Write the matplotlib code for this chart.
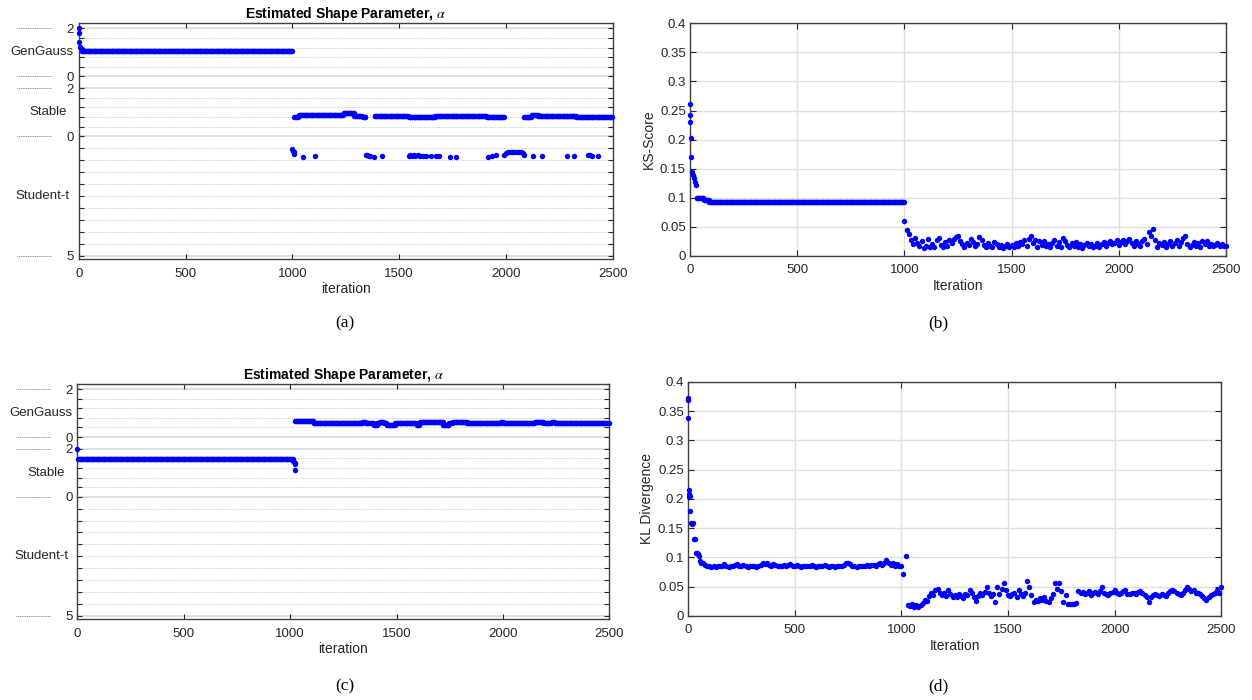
"""Estimated shape parameter and goodness-of-fit traces for two runs."""

from __future__ import annotations

import matplotlib

matplotlib.use("Agg")
import matplotlib.pyplot as plt
import numpy as np

plt.rcParams["font.family"] = ["Liberation Sans", "DejaVu Sans"]
plt.rcParams["mathtext.fontset"] = "stix"

X_TICKS = [0, 500, 1000, 1500, 2000, 2500]
SCORE_TICKS = [0, 0.05, 0.1, 0.15, 0.2, 0.25, 0.3, 0.35, 0.4]
SCORE_TICK_LABELS = ["0", "0.05", "0.1", "0.15", "0.2", "0.25", "0.3", "0.35", "0.4"]

# stacked y axis of the shape panels:
# GenGauss alpha 0..2 on top, Stable alpha 0..2 below it, Student-t nu 0..5 at the bottom
MODEL_NAMES = ["GenGauss", "Stable", "Student-t"]
MODEL_LABEL_VALUES = [1.0, 1.0, 2.5]
MAJOR_LABELS = ["5", "0", "2", "0", "2"]

# ---- (a) shape parameter, first run ----
A_GG_IT = [0, 1, 3, 6, 14]
A_GG_VAL = [2.0, 1.82, 1.44, 1.21, 1.12]
A_GG_RUNS = [(14, 1001, 1.07)]  # (from iteration, to iteration, value)
A_STABLE_RUNS = [
    (1010, 1030, 0.80), (1030, 1240, 0.87), (1240, 1290, 0.95), (1290, 1330, 0.84),
    (1330, 1343, 0.80), (1385, 1418, 0.86), (1420, 1544, 0.83), (1545, 1560, 0.80),
    (1560, 1670, 0.81), (1670, 1760, 0.84), (1760, 1910, 0.84), (1910, 1992, 0.81),
    (2085, 2120, 0.80), (2120, 2150, 0.88), (2150, 2280, 0.83), (2280, 2330, 0.86),
    (2330, 2385, 0.82), (2385, 2501, 0.80),
]
A_ST_IT = [1000, 1003, 1006, 1010, 1048, 1108, 1343, 1350, 1358, 1365,
           1381, 1418, 1544, 1552, 1560, 1568, 1575, 1590, 1600, 1610,
           1625, 1648, 1671, 1687, 1736, 1767, 1915, 1935, 1955, 1990,
           2000, 2010, 2020, 2030, 2040, 2050, 2060, 2070, 2080, 2085,
           2125, 2167, 2284, 2318, 2386, 2395, 2405, 2430]
A_ST_VAL = [0.55, 0.62, 0.68, 0.75, 0.88, 0.84, 0.78, 0.80, 0.82, 0.84,
            0.86, 0.84, 0.82, 0.80, 0.82, 0.80, 0.81, 0.80, 0.82, 0.81,
            0.82, 0.84, 0.84, 0.84, 0.86, 0.86, 0.86, 0.84, 0.80, 0.78,
            0.72, 0.68, 0.66, 0.65, 0.65, 0.65, 0.66, 0.68, 0.72, 0.78,
            0.84, 0.84, 0.83, 0.83, 0.78, 0.80, 0.82, 0.84]

# ---- (b) KS score, first run ----
B_EARLY_IT = [0, 1, 2, 4, 6, 10, 15, 20, 25, 30, 32]
B_EARLY_VAL = [0.262, 0.243, 0.230, 0.202, 0.170, 0.145, 0.139, 0.134, 0.128, 0.122, 0.099]
B_RUNS = [(35, 65, 0.099), (65, 90, 0.096), (90, 1000, 0.093)]
B_LATE_IT = list(range(1000, 2501, 10))
B_LATE_VAL = [
    0.060, 0.045, 0.037, 0.028, 0.020, 0.031, 0.022, 0.017, 0.025, 0.014,
    0.018, 0.030, 0.016, 0.021, 0.015, 0.027, 0.031, 0.019, 0.016, 0.024,
    0.018, 0.028, 0.022, 0.030, 0.033, 0.035, 0.026, 0.020, 0.016, 0.023,
    0.019, 0.029, 0.024, 0.017, 0.021, 0.032, 0.027, 0.019, 0.015, 0.022,
    0.018, 0.016, 0.024, 0.020, 0.015, 0.019, 0.014, 0.017, 0.021, 0.016,
    0.019, 0.015, 0.022, 0.017, 0.024, 0.020, 0.028, 0.018, 0.030, 0.034,
    0.022, 0.027, 0.016, 0.025, 0.019, 0.026, 0.017, 0.020, 0.015, 0.023,
    0.028, 0.018, 0.024, 0.016, 0.031, 0.026, 0.019, 0.015, 0.022, 0.018,
    0.024, 0.016, 0.020, 0.014, 0.019, 0.023, 0.017, 0.021, 0.015, 0.018,
    0.022, 0.016, 0.020, 0.024, 0.018, 0.022, 0.026, 0.020, 0.023, 0.027,
    0.019, 0.024, 0.028, 0.021, 0.025, 0.030, 0.022, 0.018, 0.026, 0.021,
    0.017, 0.025, 0.029, 0.020, 0.042, 0.035, 0.047, 0.028, 0.016, 0.022,
    0.019, 0.024, 0.015, 0.020, 0.026, 0.018, 0.022, 0.028, 0.017, 0.024,
    0.031, 0.034, 0.021, 0.015, 0.019, 0.024, 0.018, 0.022, 0.016, 0.025,
    0.020, 0.026, 0.018, 0.021, 0.017, 0.019, 0.022, 0.018, 0.020, 0.017,
    0.018,
]

# ---- (c) shape parameter, second run ----
C_STABLE_IT = [0, 1015, 1018, 1021, 1023, 1025]
C_STABLE_VAL = [1.99, 1.50, 1.46, 1.40, 1.37, 1.11]
C_STABLE_RUNS = [(3, 1015, 1.56)]
C_GG_RUNS = [
    (1025, 1110, 0.68), (1110, 1340, 0.59), (1340, 1355, 0.62), (1355, 1395, 0.58),
    (1395, 1410, 0.52), (1410, 1420, 0.60), (1420, 1440, 0.63), (1440, 1455, 0.58),
    (1455, 1495, 0.52), (1495, 1595, 0.58), (1595, 1610, 0.52), (1610, 1720, 0.64),
    (1720, 1745, 0.51), (1745, 1765, 0.58), (1765, 1830, 0.64), (1830, 1990, 0.59),
    (1990, 2000, 0.62), (2000, 2150, 0.59), (2150, 2190, 0.64), (2190, 2230, 0.59),
    (2230, 2245, 0.63), (2245, 2501, 0.58),
]

# ---- (d) KL divergence, second run ----
D_EARLY_IT = [0, 1, 2, 3, 5, 7, 9, 11, 14, 18, 22, 28, 34, 37, 42, 48, 53, 56, 61]
D_EARLY_VAL = [0.372, 0.369, 0.339, 0.215, 0.208, 0.204, 0.205, 0.179, 0.159, 0.158,
               0.159, 0.131, 0.131, 0.108, 0.107, 0.106, 0.103, 0.094, 0.090]
D_MID_IT = list(range(70, 1000, 10))
D_MID_VAL = [
    0.090, 0.088, 0.085, 0.086, 0.084, 0.085, 0.084, 0.085, 0.085, 0.086,
    0.089, 0.085, 0.084, 0.085, 0.085, 0.087, 0.089, 0.086, 0.085, 0.087,
    0.085, 0.084, 0.085, 0.086, 0.085, 0.084, 0.086, 0.088, 0.090, 0.089,
    0.091, 0.088, 0.086, 0.089, 0.087, 0.085, 0.086, 0.085, 0.087, 0.086,
    0.088, 0.089, 0.086, 0.085, 0.087, 0.085, 0.084, 0.085, 0.085, 0.086,
    0.085, 0.087, 0.085, 0.084, 0.086, 0.085, 0.085, 0.087, 0.085, 0.084,
    0.085, 0.085, 0.084, 0.085, 0.086, 0.085, 0.088, 0.090, 0.090, 0.089,
    0.086, 0.085, 0.084, 0.085, 0.085, 0.086, 0.085, 0.087, 0.086, 0.087,
    0.088, 0.086, 0.089, 0.090, 0.088, 0.091, 0.096, 0.090, 0.088, 0.090,
    0.086, 0.089, 0.085,
]
D_LATE_IT = list(range(1000, 2501, 10))
D_LATE_VAL = [
    0.085, 0.072, 0.102, 0.019, 0.017, 0.020, 0.016, 0.018, 0.016, 0.019,
    0.022, 0.027, 0.025, 0.034, 0.039, 0.036, 0.044, 0.047, 0.040, 0.036,
    0.039, 0.035, 0.044, 0.038, 0.033, 0.036, 0.032, 0.037, 0.035, 0.031,
    0.038, 0.036, 0.045, 0.040, 0.033, 0.026, 0.035, 0.039, 0.036, 0.041,
    0.050, 0.039, 0.034, 0.037, 0.024, 0.050, 0.038, 0.047, 0.056, 0.044,
    0.036, 0.034, 0.038, 0.039, 0.033, 0.045, 0.037, 0.034, 0.040, 0.059,
    0.050, 0.036, 0.024, 0.027, 0.025, 0.030, 0.028, 0.032, 0.026, 0.024,
    0.030, 0.037, 0.056, 0.047, 0.056, 0.042, 0.024, 0.036, 0.021, 0.021,
    0.021, 0.021, 0.022, 0.042, 0.039, 0.041, 0.037, 0.040, 0.042, 0.036,
    0.039, 0.041, 0.038, 0.042, 0.050, 0.040, 0.037, 0.036, 0.039, 0.041,
    0.045, 0.040, 0.038, 0.039, 0.042, 0.045, 0.038, 0.037, 0.040, 0.039,
    0.038, 0.041, 0.042, 0.039, 0.036, 0.033, 0.024, 0.033, 0.036, 0.038,
    0.036, 0.035, 0.037, 0.036, 0.034, 0.039, 0.043, 0.045, 0.042, 0.040,
    0.038, 0.036, 0.040, 0.045, 0.050, 0.046, 0.043, 0.045, 0.040, 0.039,
    0.037, 0.035, 0.031, 0.027, 0.033, 0.036, 0.038, 0.040, 0.045, 0.039,
    0.050,
]

DOT = dict(ls="none", marker="o", ms=3.9, mew=0, color="#0000ff", clip_on=False, zorder=3)
TXT = "#262626"


def runs_to_points(runs, step=4):
    its, vals = [], []
    for start, stop, value in runs:
        i = np.arange(start, stop, step)
        its.append(i)
        vals.append(np.full(len(i), value))
    return np.concatenate(its), np.concatenate(vals)


# positions on the stacked axis
def gg_pos(a):
    return 7.5 + np.asarray(a, dtype=float)


def stable_pos(a):
    return 5.0 + np.asarray(a, dtype=float)


def student_pos(nu):
    return 5.0 - np.asarray(nu, dtype=float)


def style_model_axis(ax):
    major = [student_pos(5), student_pos(0), stable_pos(2), gg_pos(0), gg_pos(2)]
    minor = np.concatenate([np.arange(0.5, 5.0, 0.5),
                            stable_pos(np.arange(0.4, 1.9, 0.4)),
                            gg_pos(np.arange(0.4, 1.9, 0.4))])
    ax.set_xlim(0, 2500)
    ax.set_ylim(-0.14, 9.71)
    ax.set_xticks(X_TICKS)
    ax.set_yticks(major)
    ax.set_yticklabels(MAJOR_LABELS)
    ax.set_yticks(minor, minor=True)
    for y in major:
        ax.axhline(y, color="#dcdcdc", lw=1.3, zorder=0)
        # short dotted leader left of each numeric label
        ax.plot([-0.116, -0.051], [y, y], transform=ax.get_yaxis_transform(),
                color="#8c8c8c", lw=0.7, ls=(0, (1, 0.8)), clip_on=False)
    for y in minor:
        ax.axhline(y, color="#b8b8b8", lw=0.6, ls=(0, (1, 1.6)), zorder=0)
    offsets = [-0.069, -0.058, -0.067]
    positions = [gg_pos(MODEL_LABEL_VALUES[0]), stable_pos(MODEL_LABEL_VALUES[1]),
                 student_pos(MODEL_LABEL_VALUES[2])]
    for name, y, dx in zip(MODEL_NAMES, positions, offsets):
        ax.text(dx, y, name, transform=ax.get_yaxis_transform(), ha="center",
                va="center", fontsize=9.5, color=TXT)
    ax.tick_params(which="both", direction="in", top=True, right=True,
                   length=3.5, width=0.8, colors=TXT, labelsize=9.5)
    ax.tick_params(axis="x", pad=6)
    ax.tick_params(axis="y", which="major", pad=3.5)
    ax.set_xlabel("iteration", fontsize=10, color=TXT, labelpad=2)
    ax.set_title("Estimated Shape Parameter, $\\alpha$", fontsize=10,
                 fontweight="bold", color="black", pad=4)


def style_score_axis(ax, ylabel):
    ax.set_xlim(0, 2500)
    ax.set_ylim(0, 0.4)
    ax.set_xticks(X_TICKS)
    ax.set_yticks(SCORE_TICKS)
    ax.set_yticklabels(SCORE_TICK_LABELS)
    ax.grid(True, color="#e0e0e0", lw=1.0)
    ax.set_axisbelow(True)
    ax.tick_params(direction="in", top=True, right=True, length=4, width=0.8,
                   colors=TXT, labelsize=9.5)
    ax.tick_params(axis="x", pad=6)
    ax.tick_params(axis="y", pad=3)
    ax.set_xlabel("Iteration", fontsize=10, color=TXT, labelpad=2)
    ax.set_ylabel(ylabel, fontsize=10, color=TXT, labelpad=3)


def main() -> None:
    fig = plt.figure(figsize=(12.52, 7.0), dpi=100)
    ax_a = fig.add_axes([0.0629, 0.6296, 0.4265, 0.3371])
    ax_b = fig.add_axes([0.5511, 0.6343, 0.4281, 0.3324])
    ax_c = fig.add_axes([0.0618, 0.1153, 0.4249, 0.3357])
    ax_d = fig.add_axes([0.5495, 0.1200, 0.4260, 0.3343])

    for ax in (ax_a, ax_b, ax_c, ax_d):
        for sp in ax.spines.values():
            sp.set_color("#404040")
            sp.set_linewidth(1.0)

    # (a)
    style_model_axis(ax_a)
    gx, gy = runs_to_points(A_GG_RUNS)
    ax_a.plot(A_GG_IT, gg_pos(A_GG_VAL), **DOT)
    ax_a.plot(gx, gg_pos(gy), **DOT)
    sx, sy = runs_to_points(A_STABLE_RUNS)
    ax_a.plot(sx, stable_pos(sy), **DOT)
    ax_a.plot(A_ST_IT, student_pos(A_ST_VAL), **DOT)

    # (b)
    style_score_axis(ax_b, "KS-Score")
    rx, ry = runs_to_points(B_RUNS)
    ax_b.plot(B_EARLY_IT, B_EARLY_VAL, **DOT)
    ax_b.plot(rx, ry, **DOT)
    ax_b.plot(B_LATE_IT, B_LATE_VAL, **DOT)

    # (c)
    style_model_axis(ax_c)
    sx, sy = runs_to_points(C_STABLE_RUNS)
    ax_c.plot(sx, stable_pos(sy), **DOT)
    ax_c.plot(C_STABLE_IT, stable_pos(C_STABLE_VAL), **DOT)
    gx, gy = runs_to_points(C_GG_RUNS)
    ax_c.plot(gx, gg_pos(gy), **DOT)

    # (d)
    style_score_axis(ax_d, "KL Divergence")
    ax_d.plot(D_EARLY_IT, D_EARLY_VAL, **DOT)
    ax_d.plot(D_MID_IT, D_MID_VAL, **DOT)
    ax_d.plot(D_LATE_IT, D_LATE_VAL, **DOT)

    cap = dict(ha="center", va="center", fontsize=12.5, family=["Liberation Serif"])
    fig.text(0.2756, 0.5386, "(a)", **cap)
    fig.text(0.7492, 0.5386, "(b)", **cap)
    fig.text(0.2756, 0.0200, "(c)", **cap)
    fig.text(0.7492, 0.0200, "(d)", **cap)

    fig.savefig("out.png", dpi=100)
    plt.close(fig)


if __name__ == "__main__":
    main()
